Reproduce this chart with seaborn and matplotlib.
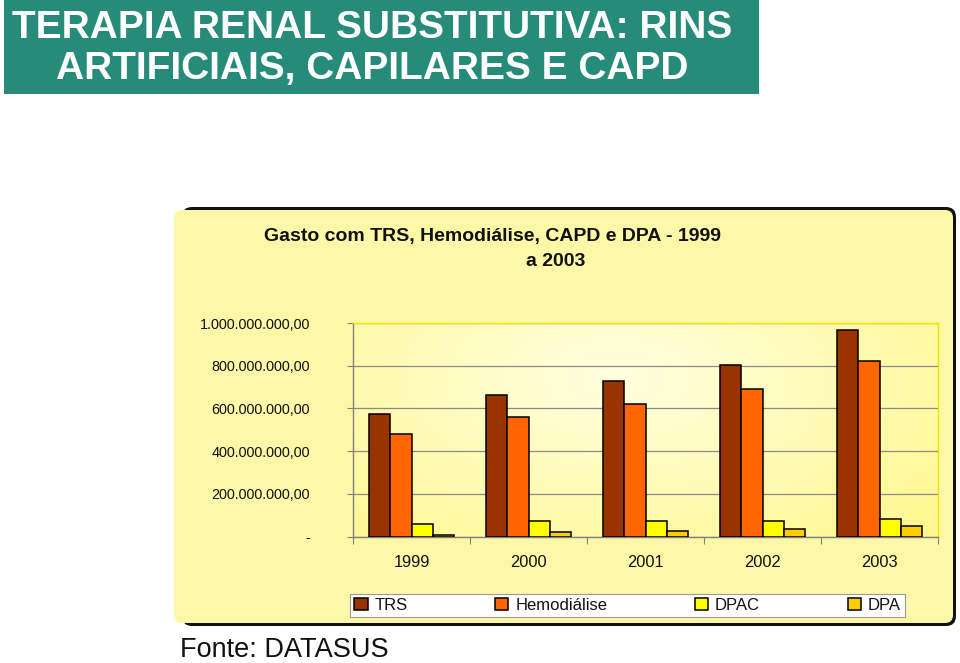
import numpy as np
import pandas as pd
import matplotlib
matplotlib.use("Agg")
import matplotlib.pyplot as plt
import seaborn as sns
from matplotlib.patches import FancyBboxPatch, Rectangle
from matplotlib.ticker import FixedLocator

# ---- data (values in R$) ----
years = ["1999", "2000", "2001", "2002", "2003"]
series = ["TRS", "Hemodiálise", "DPAC", "DPA"]
trs = [573e6, 661e6, 726e6, 802e6, 966e6]
hemodialise = [479e6, 562e6, 620e6, 689e6, 823e6]
dpac = [60e6, 73e6, 73e6, 73e6, 84e6]
dpa = [8e6, 21e6, 27e6, 34e6, 49e6]
ytick_values = [0, 200e6, 400e6, 600e6, 800e6, 1000e6]
ytick_labels = ["-", "200.000.000,00", "400.000.000,00", "600.000.000,00",
                "800.000.000,00", "1.000.000.000,00"]
colors = ["#993300", "#FF6600", "#FFFF00", "#FFCC00"]

df = pd.DataFrame({
    "Ano": years * 4,
    "Série": [s for s in series for _ in years],
    "Valor": trs + hemodialise + dpac + dpa,
})

sns.set_theme(style="white")
plt.rcParams["font.family"] = ["Liberation Sans", "DejaVu Sans"]

W, H = 960, 663
fig = plt.figure(figsize=(W / 100, H / 100), dpi=100)
fig.patch.set_facecolor("white")

# background layer in pixel coordinates
bg = fig.add_axes([0, 0, 1, 1])
bg.set_xlim(0, W)
bg.set_ylim(H, 0)
bg.axis("off")

# green banner
bg.add_patch(Rectangle((4, 0), 755, 94, facecolor="#278B79", edgecolor="none"))
bg.text(372, 38, "TERAPIA RENAL SUBSTITUTIVA: RINS", color="white",
        fontsize=28, fontweight="bold", ha="center", va="baseline")
bg.text(372, 79, "ARTIFICIAIS, CAPILARES E CAPD", color="white",
        fontsize=28, fontweight="bold", ha="center", va="baseline")

# chart panel (shadow + yellow)
bg.add_patch(FancyBboxPatch((182, 207), 774, 419,
                            boxstyle="round,pad=0,rounding_size=10",
                            facecolor="#111111", edgecolor="none"))
bg.add_patch(FancyBboxPatch((174, 210), 779, 413,
                            boxstyle="round,pad=0,rounding_size=8",
                            facecolor="#FDF8A8", edgecolor="none"))

# chart title
bg.text(492, 241, "Gasto com TRS, Hemodiálise, CAPD e DPA - 1999",
        fontsize=14, fontweight="bold", color="#111111", ha="center", va="baseline")
bg.text(556, 266, "a 2003", fontsize=14, fontweight="bold", color="#111111",
        ha="center", va="baseline")

# source
bg.text(180, 657, "Fonte: DATASUS", fontsize=19.5, color="#111111",
        ha="left", va="baseline")

# ---- chart axes ----
ax = fig.add_axes([353 / W, 126.5 / H, 585 / W, 213.5 / H])
ax.set_facecolor("none")

sns.barplot(data=df, x="Ano", y="Valor", hue="Série", hue_order=series,
            palette=colors, width=0.72, edgecolor="black", linewidth=1.1,
            saturation=1, ax=ax, zorder=3)

ax.set_xlim(-0.5, 4.5)
ax.set_ylim(0, 1000e6)

# gradient plot-area background
gy, gx = np.mgrid[0:1:200j, 0:1:400j]
d = np.sqrt(((gx - 0.45) / 0.75) ** 2 + ((gy - 0.75) / 1.1) ** 2)
d = np.clip(d, 0, 1)
c_in = np.array([1.0, 1.0, 0.88])
c_out = np.array([1.0, 0.97, 0.55])
img = c_in[None, None, :] * (1 - d[..., None]) + c_out[None, None, :] * d[..., None]
ax.imshow(img, extent=[-0.5, 4.5, 0, 1000e6], origin="lower", aspect="auto",
          zorder=0, interpolation="bilinear")

ax.yaxis.set_major_locator(FixedLocator(ytick_values))
ax.set_yticklabels(ytick_labels)
ax.grid(axis="y", color="#8a8a8a", linewidth=0.9, zorder=1)
ax.grid(axis="x", visible=False)
ax.set_axisbelow(True)

ax.tick_params(axis="y", which="major", length=4, width=0.8, color="#808080",
               pad=27, labelsize=10.4, labelcolor="#111111", left=True)
ax.tick_params(axis="x", which="major", length=0, pad=13, labelsize=11.8,
               labelcolor="#111111")
ax.set_xticks(np.arange(-0.5, 5.0, 1.0), minor=True)
ax.tick_params(axis="x", which="minor", length=5, width=0.8, color="#808080",
               bottom=True)

for s in ["left", "bottom"]:
    ax.spines[s].set_color("#808080")
    ax.spines[s].set_linewidth(1.0)
for s in ["top", "right"]:
    ax.spines[s].set_color("#F2E600")
    ax.spines[s].set_linewidth(1.0)

ax.set_xlabel("")
ax.set_ylabel("")

handles, labels = ax.get_legend_handles_labels()
if ax.get_legend() is not None:
    ax.get_legend().remove()
leg = fig.legend(handles, labels, loc="lower left", ncol=4, mode="expand",
                 bbox_to_anchor=(350 / W, (H - 617) / H, 555 / W, 23 / H),
                 borderaxespad=0, frameon=True, fancybox=False, framealpha=1,
                 handlelength=0.8, handleheight=0.8, handletextpad=0.4,
                 fontsize=12, borderpad=0.25)
leg.get_frame().set_facecolor("white")
leg.get_frame().set_edgecolor("#9a9a9a")
leg.get_frame().set_linewidth(0.8)
for t in leg.get_texts():
    t.set_color("#111111")

fig.savefig("out.png", dpi=100)
